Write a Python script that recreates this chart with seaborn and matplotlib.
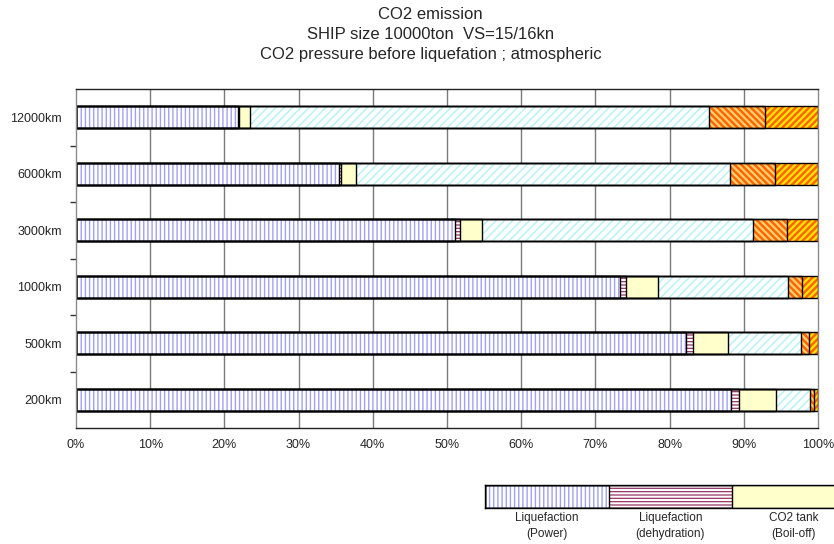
import matplotlib
matplotlib.use("Agg")
import matplotlib.pyplot as plt
import numpy as np
import seaborn as sns

# Route distance categories, top to bottom
categories = ["12000km", "6000km", "3000km", "1000km", "500km", "200km"]

# Share of total CO2 emission (%) per process
liquefaction_power = [21.8, 35.4, 51.1, 73.3, 82.2, 88.3]
liquefaction_dehydration = [0.2, 0.3, 0.6, 0.8, 0.9, 1.0]
tank_boil_off = [1.4, 2.1, 3.0, 4.3, 4.8, 5.0]
ship_transport = [61.9, 50.3, 36.6, 17.5, 9.8, 4.6]
port_loading = [7.6, 6.1, 4.5, 2.0, 1.1, 0.6]
port_unloading = [7.1, 5.8, 4.2, 2.1, 1.2, 0.5]

x_ticks = [0, 10, 20, 30, 40, 50, 60, 70, 80, 90, 100]
x_tick_labels = [f"{v}%" for v in x_ticks]

legend_labels = ["Liquefaction\n(Power)", "Liquefaction\n(dehydration)", "CO2 tank\n(Boil-off)"]

# (face colour, hatch colour, hatch pattern, hatch line width) per stacked segment
styles = [
    ("white", "#a0a0f4", "||||", 1.0),
    ("white", "#993366", "-----", 0.9),
    ("#FFFFCC", "#FFFFCC", "", 0.9),
    ("white", "#b8f2f8", "////", 1.1),
    ("#FF6600", "#FFD070", "\\\\\\\\\\", 1.6),
    ("#FF6600", "#FFE600", "/////", 1.6),
]

sns.set_style("white")
plt.rcParams["font.family"] = ["Liberation Sans", "DejaVu Sans"]

fig = plt.figure(figsize=(8.34, 5.44), dpi=100)
ax = fig.add_axes([76 / 834, 1 - 428 / 544, (818 - 76) / 834, (428 - 89) / 544])


def stacked_bars(axis, segments, labels, bar_width, stys):
    cum = np.cumsum(np.array(segments), axis=0)
    # fills: draw cumulative totals from the longest down so each segment shows
    for i in range(len(segments) - 1, -1, -1):
        face, hcol, hatch, hlw = stys[i]
        with plt.rc_context({"hatch.linewidth": hlw}):
            sns.barplot(x=cum[i], y=labels, orient="y", ax=axis, color=face,
                        saturation=1, width=bar_width, edgecolor=hcol,
                        linewidth=0, hatch=hatch, errorbar=None)
    # outlines on top
    for i in range(len(segments) - 1, -1, -1):
        sns.barplot(x=cum[i], y=labels, orient="y", ax=axis, color="black",
                    fill=False, saturation=1, width=bar_width, linewidth=1.0,
                    errorbar=None)


series = [liquefaction_power, liquefaction_dehydration, tank_boil_off,
          ship_transport, port_loading, port_unloading]
stacked_bars(ax, series, categories, 0.39, styles)

ax.set_xlim(0, 100)
ax.set_ylim(len(categories) - 0.5, -0.5)
ax.set_xlabel("")
ax.set_ylabel("")
ax.set_xticks(x_ticks)
ax.set_xticklabels(x_tick_labels, fontsize=9)
ax.tick_params(axis="x", length=0, pad=8)
ax.tick_params(axis="y", which="major", length=0, pad=10, labelsize=9)
ax.set_yticks(np.arange(0.5, len(categories) - 1, 1), minor=True)
ax.tick_params(axis="y", which="minor", length=4, width=1, color="#333333",
               direction="out", left=True)
for v in x_ticks[1:-1]:
    ax.axvline(v, color="#7a7a7a", linewidth=1, zorder=0)
for side, s in ax.spines.items():
    s.set_visible(True)
    s.set_linewidth(1)
    s.set_color("#8a8a8a" if side in ("left", "right") else "#222222")

fig.text(0.516, 0.988, "CO2 emission\nSHIP size 10000ton  VS=15/16kn\nCO2 pressure before liquefation ; atmospheric",
         ha="center", va="top", fontsize=12, linespacing=1.45)

# Legend strip below the chart
lax = fig.add_axes([485 / 834, 1 - 508 / 544, 3 * 123.5 / 834, 23 / 544])
legend_segments = [[1.0], [1.0], [1.0]]
stacked_bars(lax, legend_segments, [""], 1.0, styles[:3])
lax.set_xlim(0, 3)
lax.set_ylim(0.5, -0.5)
lax.set_xlabel("")
lax.set_ylabel("")
lax.set_yticks([])
lax.set_xticks([0.5, 1.5, 2.5])
lax.set_xticklabels(legend_labels, fontsize=8.5, linespacing=1.4)
lax.tick_params(axis="x", length=0, pad=3)
for s in lax.spines.values():
    s.set_visible(True)
    s.set_color("black")
    s.set_linewidth(1)

fig.savefig("out.png", dpi=100)
